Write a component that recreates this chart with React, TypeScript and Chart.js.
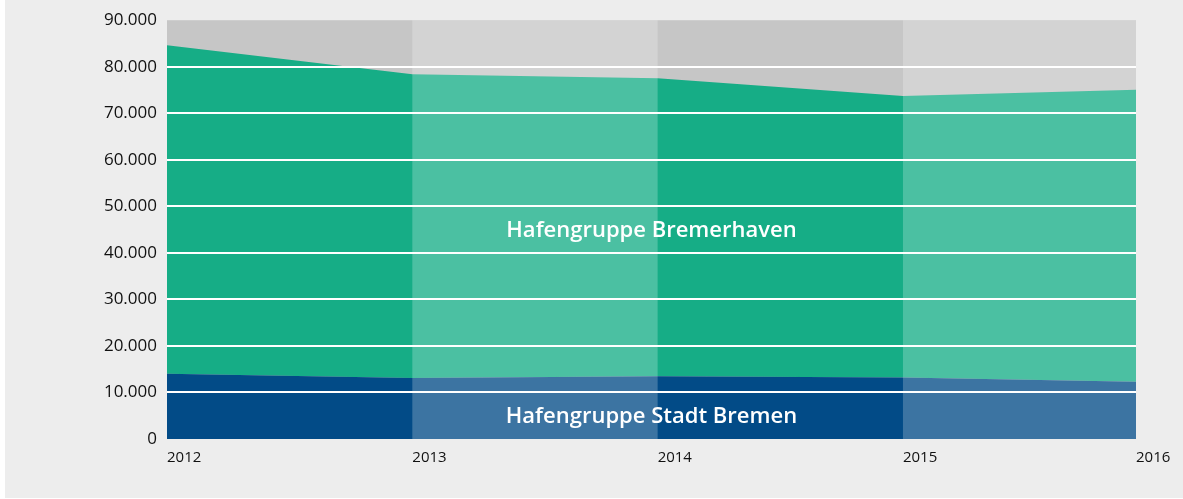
import React, { useEffect, useRef } from "react";
import { Chart, registerables } from "chart.js";

Chart.register(...registerables);

const years = [2012, 2013, 2014, 2015, 2016];
const tickValues = [2012, 2013, 2014, 2015, 2015.95];
const tickLabels = ["2012", "2013", "2014", "2015", "2016"];
const stadtBremen = [14000, 13100, 13500, 13200, 12250];
const bremerhaven = [70600, 65300, 64000, 60500, 62850];
const seriesNames = ["Hafengruppe Stadt Bremen", "Hafengruppe Bremerhaven"];
const labelValues = [4700, 44700];

const FONT = "'Open Sans', 'Noto Sans', sans-serif";

const bgPlugin = {
  id: "bgBands",
  beforeDatasetsDraw(chart: any) {
    const { ctx, chartArea } = chart;
    ctx.save();
    ctx.fillStyle = "#c6c6c6";
    ctx.fillRect(chartArea.left, chartArea.top, chartArea.right - chartArea.left, chartArea.bottom - chartArea.top);
    ctx.restore();
  },
  afterDatasetsDraw(chart: any) {
    const { ctx, chartArea, scales } = chart;
    const x = scales.x;
    ctx.save();
    ctx.fillStyle = "rgba(255,255,255,0.23)";
    const bands = [
      [2013, 2014],
      [2015, 2016],
    ];
    bands.forEach(([a, b]) => {
      const x0 = Math.max(chartArea.left, x.getPixelForValue(a));
      const x1 = Math.min(chartArea.right, x.getPixelForValue(b));
      ctx.fillRect(x0, chartArea.top, x1 - x0, chartArea.bottom - chartArea.top);
    });
    ctx.restore();
  },
  afterDraw(chart: any) {
    const { ctx, chartArea, scales } = chart;
    const cx = (chartArea.left + chartArea.right) / 2;
    ctx.save();
    ctx.fillStyle = "#ffffff";
    ctx.font = `600 22px ${FONT}`;
    ctx.textAlign = "center";
    ctx.textBaseline = "middle";
    seriesNames.forEach((name, i) => {
      ctx.fillText(name, cx, scales.y.getPixelForValue(labelValues[i]));
    });
    ctx.restore();
  },
};

export default function App() {
  const ref = useRef<HTMLCanvasElement | null>(null);

  useEffect(() => {
    document.body.style.margin = "0";
    const canvas = ref.current!;
    const chart = new Chart(canvas, {
      type: "line",
      data: {
        datasets: [
          {
            label: seriesNames[0],
            data: years.map((y, i) => ({ x: y, y: stadtBremen[i] })),
            backgroundColor: "#024b87",
            borderWidth: 0,
            pointRadius: 0,
            fill: "origin",
            tension: 0,
          },
          {
            label: seriesNames[1],
            data: years.map((y, i) => ({ x: y, y: bremerhaven[i] })),
            backgroundColor: "#16ad86",
            borderWidth: 0,
            pointRadius: 0,
            fill: "-1",
            tension: 0,
          },
        ],
      },
      options: {
        animation: false,
        responsive: false,
        maintainAspectRatio: false,
        layout: { padding: { left: 0, top: 20, right: 47, bottom: 0 } },
        plugins: { legend: { display: false }, tooltip: { enabled: false } },
        scales: {
          x: {
            type: "linear",
            min: 2012,
            max: 2015.95,
            grid: { display: false },
            border: { display: false },
            afterBuildTicks: (scale: any) => {
              scale.ticks = tickValues.map((v) => ({ value: v }));
            },
            afterFit: (scale: any) => {
              scale.height = 60;
            },
            ticks: {
              autoSkip: false,
              maxRotation: 0,
              minRotation: 0,
              align: "start",
              padding: 2,
              color: "#111111",
              font: { family: FONT, size: 15 },
              callback: (_v: any, i: number) => tickLabels[i],
            },
          },
          y: {
            stacked: true,
            min: 0,
            max: 90000,
            afterFit: (scale: any) => {
              scale.width = 167;
            },
            border: { display: false },
            grid: {
              z: 1,
              drawTicks: false,
              lineWidth: 2,
              color: (c: any) =>
                c.tick && c.tick.value > 0 && c.tick.value < 90000 ? "#ffffff" : "rgba(0,0,0,0)",
            },
            ticks: {
              stepSize: 10000,
              padding: 10,
              color: "#111111",
              font: { family: FONT, size: 17 },
              callback: (v: any) => (v === 0 ? "0" : Number(v).toLocaleString("de-DE")),
            },
          },
        },
      },
      plugins: [bgPlugin],
    });
    return () => chart.destroy();
  }, []);

  return (
    <div style={{ position: "relative", width: 1183, height: 499, background: "#ffffff" }}>
      <div style={{ position: "absolute", left: 5, top: 0, width: 1178, height: 498, background: "#ededed" }} />
      <canvas ref={ref} width={1183} height={499} style={{ position: "absolute", left: 0, top: 0 }} />
    </div>
  );
}
